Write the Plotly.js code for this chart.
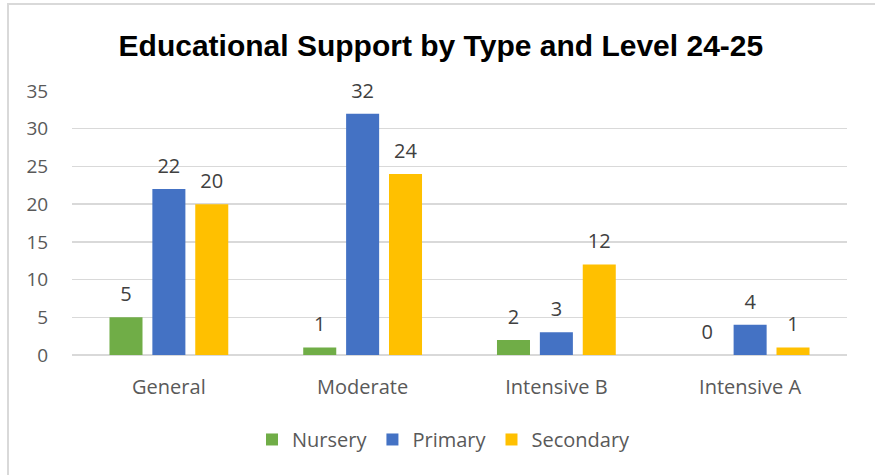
<!DOCTYPE html>
<html>
<head>
<meta charset="utf-8">
<script src="https://cdn.plot.ly/plotly-3.0.1.min.js"></script>
<style>
  html, body { margin: 0; padding: 0; background: #fff; }
  #wrap { position: relative; width: 875px; height: 475px; overflow: hidden; }
  #chart { width: 875px; height: 475px; }
  #frame { position: absolute; left: 7px; top: 3px; width: 900px; height: 500px;
           border-left: 2px solid #d9d9d9; border-top: 2px solid #d9d9d9; pointer-events: none; }
</style>
</head>
<body>
<div id="wrap">
  <div id="chart"></div>
  <div id="frame"></div>
</div>
<script>
const categories = ["General", "Moderate", "Intensive B", "Intensive A"];
const seriesNames = ["Nursery", "Primary", "Secondary"];
const nursery = [5, 1, 2, 0];
const primary = [22, 32, 3, 4];
const secondary = [20, 24, 12, 1];
const yTicks = [0, 5, 10, 15, 20, 25, 30, 35];
const colors = ["#70AD47", "#4472C4", "#FFC000"];

const seriesValues = [nursery, primary, secondary];
const font = "'Open Sans', 'Noto Sans', sans-serif";
const gap = 0.336;

const traces = [];
seriesValues.forEach((vals, i) => {
  traces.push({
    type: "bar", name: seriesNames[i], x: categories, y: vals,
    marker: { color: colors[i] }, offsetgroup: String(i), hoverinfo: "skip"
  });
});
seriesValues.forEach((vals, i) => {
  traces.push({
    type: "scatter", mode: "markers+text", x: categories, y: vals,
    text: vals.map(String), textposition: "top center",
    textfont: { family: font, size: 20, color: "#404040" },
    marker: { size: 16, color: "rgba(0,0,0,0)" },
    offsetgroup: String(i), showlegend: false, hoverinfo: "skip", cliponaxis: false
  });
});

const layout = {
  width: 875, height: 475,
  margin: { l: 72, r: 28, t: 91, b: 120 },
  paper_bgcolor: "rgba(0,0,0,0)", plot_bgcolor: "#fff",
  title: { text: "<b>Educational Support by Type and Level 24-25</b>",
           font: { family: "'Liberation Sans', Arial, sans-serif", size: 30, color: "#000" },
           x: 0.476, xanchor: "center", xref: "paper", y: 1.174, yref: "paper", yanchor: "middle" },
  barmode: "group", bargap: gap, bargroupgap: 0.23,
  scattermode: "group", scattergap: gap,
  xaxis: { type: "category", tickfont: { family: font, size: 20, color: "#595959" },
           ticks: "outside", ticklen: 14, tickcolor: "rgba(0,0,0,0)",
           showline: false, showgrid: false, fixedrange: true },
  yaxis: { range: [0, 35], tickvals: yTicks, ticktext: yTicks.map(String),
           tickfont: { family: font, size: 19, color: "#595959" },
           ticks: "outside", ticklen: 19, tickcolor: "rgba(0,0,0,0)",
           gridcolor: "#d9d9d9", gridwidth: 1.5, zeroline: true, zerolinecolor: "#d9d9d9", zerolinewidth: 1.5,
           showline: false, fixedrange: true },
  showlegend: true,
  legend: { orientation: "h", x: 0.48, xanchor: "center", y: -0.32, yanchor: "middle",
            font: { family: font, size: 20, color: "#595959" }, itemwidth: 30, traceorder: "normal" }
};

Plotly.newPlot("chart", traces, layout, { displayModeBar: false, staticPlot: true });
</script>
</body>
</html>
